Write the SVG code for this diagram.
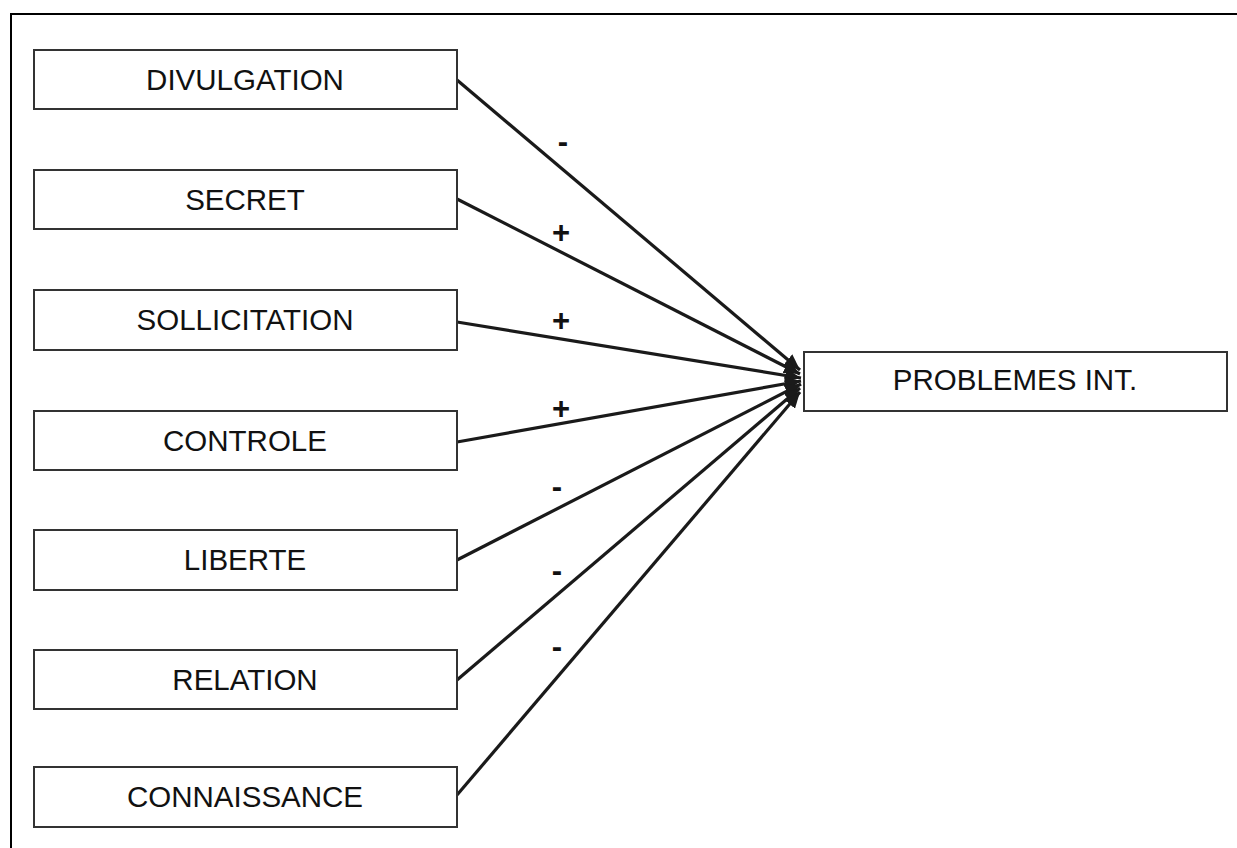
<svg xmlns="http://www.w3.org/2000/svg" width="1237" height="848" viewBox="0 0 1237 848">
<style>
.box{fill:#fff;stroke:#333;stroke-width:2}
.lbl{font-family:"Liberation Sans",Arial,sans-serif;font-size:29.5px;fill:#111;text-anchor:middle}
.sign{font-family:"Liberation Sans",Arial,sans-serif;font-size:31px;font-weight:bold;fill:#111;text-anchor:middle}
.conn{stroke:#1a1a1a;stroke-width:3.2;fill:none;marker-end:url(#ah)}
</style>
<defs>
<marker id="ah" markerUnits="userSpaceOnUse" markerWidth="18" markerHeight="14" refX="16" refY="7" orient="auto">
<path d="M0,0 L16,7 L0,14 Z" fill="#1a1a1a"/>
</marker>
</defs>
<rect width="1237" height="848" fill="#fff"/>
<path d="M11,848 V14 H1237" fill="none" stroke="#000" stroke-width="2"/>
<g id="connectors">
<line class="conn" x1="457" y1="80" x2="800" y2="370"/>
<line class="conn" x1="457" y1="199" x2="800" y2="374"/>
<line class="conn" x1="457" y1="322" x2="801" y2="378"/>
<line class="conn" x1="457" y1="442" x2="801" y2="381"/>
<line class="conn" x1="457" y1="560" x2="801" y2="384"/>
<line class="conn" x1="457" y1="680" x2="800" y2="388"/>
<line class="conn" x1="457" y1="795" x2="800" y2="392"/>
</g>
<g id="signs">
<text class="sign" x="563" y="152">-</text>
<text class="sign" x="561" y="243">+</text>
<text class="sign" x="561" y="331">+</text>
<text class="sign" x="561" y="419">+</text>
<text class="sign" x="557" y="497">-</text>
<text class="sign" x="557" y="581">-</text>
<text class="sign" x="557" y="657">-</text>
</g>
<g id="n-divulgation"><rect class="box" x="34" y="50" width="423" height="59"/><text class="lbl" x="245" y="90">DIVULGATION</text></g>
<g id="n-secret"><rect class="box" x="34" y="170" width="423" height="59"/><text class="lbl" x="245" y="210">SECRET</text></g>
<g id="n-sollicitation"><rect class="box" x="34" y="290" width="423" height="60"/><text class="lbl" x="245" y="330">SOLLICITATION</text></g>
<g id="n-controle"><rect class="box" x="34" y="411" width="423" height="59"/><text class="lbl" x="245" y="451">CONTROLE</text></g>
<g id="n-liberte"><rect class="box" x="34" y="530" width="423" height="60"/><text class="lbl" x="245" y="570">LIBERTE</text></g>
<g id="n-relation"><rect class="box" x="34" y="650" width="423" height="59"/><text class="lbl" x="245" y="690">RELATION</text></g>
<g id="n-connaissance"><rect class="box" x="34" y="767" width="423" height="60"/><text class="lbl" x="245" y="807">CONNAISSANCE</text></g>
<g id="n-problemes"><rect class="box" x="804" y="352" width="423" height="59"/><text class="lbl" x="1015" y="390">PROBLEMES INT.</text></g>
</svg>
